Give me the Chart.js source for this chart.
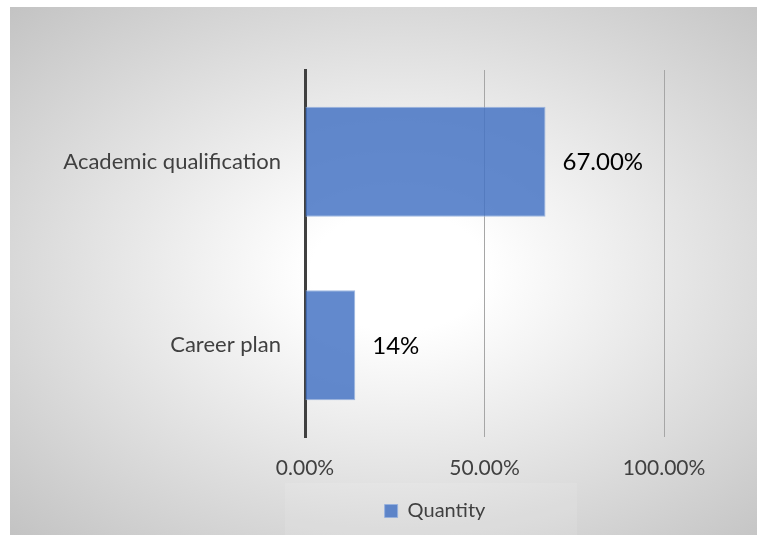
<!DOCTYPE html>
<html><head><meta charset="utf-8">
<script src="https://cdn.jsdelivr.net/npm/chart.js@4"></script>
<style>
html,body{margin:0;padding:0;background:#fff;width:757px;height:535px;overflow:hidden}
#bg{position:absolute;left:10px;top:7px;width:747px;height:528px;
 background:radial-gradient(ellipse farthest-corner at 52% 50%, #ffffff 0%, #ffffff 16%, #c3c3c3 100%);}
#wrap{position:absolute;left:0;top:0;width:757px;height:535px}
</style></head><body>
<div id="bg"></div>
<div id="wrap"><canvas id="c" width="757" height="535"></canvas></div>
<script>
const categories = ['Academic qualification', 'Career plan'];
const values = [0.67, 0.14];
const valueLabels = ['67.00%', '14%'];
const xTickValues = [0, 0.5, 1];
const seriesName = 'Quantity';

const FONT = 'Lato, "Open Sans", sans-serif';
const barFill = 'rgba(68,114,196,0.84)';

const dataLabelPlugin = {
  id: 'dataLabels',
  afterDatasetsDraw(chart) {
    const ctx = chart.ctx;
    const meta = chart.getDatasetMeta(0);
    ctx.save();
    ctx.font = '24px ' + FONT;
    ctx.fillStyle = '#000000';
    ctx.textAlign = 'left';
    ctx.textBaseline = 'middle';
    meta.data.forEach((bar, i) => {
      ctx.fillText(valueLabels[i], bar.x + 17, bar.y + 1);
    });
    ctx.restore();
  }
};

const legendShiftPlugin = {
  id: 'legendShift',
  afterLayout(chart) {
    const lg = chart.legend;
    if (lg) { lg.left += 103; lg.right += 103; }
  }
};

const legendBgPlugin = {
  id: 'legendBg',
  beforeDraw(chart) {
    const ctx = chart.ctx;
    ctx.save();
    ctx.fillStyle = 'rgba(255,255,255,0.1)';
    ctx.fillRect(285, 483, 292, 52);
    ctx.restore();
  }
};

new Chart(document.getElementById('c'), {
  type: 'bar',
  data: {
    labels: categories,
    datasets: [{
      label: seriesName,
      data: values,
      backgroundColor: barFill,
      borderColor: 'rgba(150,176,222,0.9)',
      borderWidth: 1,
      barPercentage: 0.6,
      categoryPercentage: 1.0
    }]
  },
  options: {
    indexAxis: 'y',
    responsive: false,
    animation: false,
    layout: { padding: { top: 70, right: 93, left: 0, bottom: 4 } },
    plugins: {
      tooltip: { enabled: false },
      legend: {
        position: 'bottom',
        labels: {
          boxWidth: 13, boxHeight: 13, padding: 10,
          color: '#404040',
          font: { family: FONT, size: 20 }
        }
      }
    },
    scales: {
      x: {
        min: 0, max: 1,
        afterBuildTicks(scale) { scale.ticks = xTickValues.map(v => ({ value: v })); },
        afterFit(scale) { scale.height = 54; },
        grid: { color: '#a6a6a6', lineWidth: 1, drawTicks: false },
        border: { display: false },
        ticks: {
          padding: 19,
          color: '#404040',
          font: { family: FONT, size: 21 },
          callback: v => (v * 100).toFixed(2) + '%'
        }
      },
      y: {
        afterFit(scale) { scale.width = 305; },
        grid: { display: false, drawTicks: false },
        border: { display: true, color: '#404040', width: 3 },
        ticks: {
          padding: 24,
          color: '#404040',
          font: { family: FONT, size: 22 }
        }
      }
    }
  },
  plugins: [legendShiftPlugin, legendBgPlugin, dataLabelPlugin]
});
</script>
</body></html>
